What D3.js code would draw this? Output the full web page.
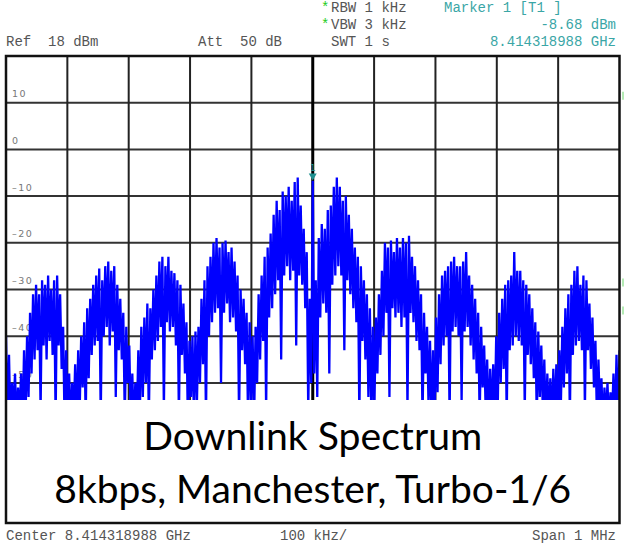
<!DOCTYPE html>
<html>
  <head>
    <meta charset="utf-8">
    <title>Downlink spectrum</title>
    <script src="https://d3js.org/d3.v7.min.js"></script>
    <style>
      body { margin: 0; background: #fff; }
      svg { display: block; }
      .mono { font-family: "Liberation Mono", "DejaVu Sans Mono", monospace; font-size: 14px; white-space: pre; }
    </style>
  </head>
  <body>
    <svg id="chart" width="625" height="549"></svg>
    <script>
      // analyser settings
      refLevel = 18;
      dbPerDiv = 10;
      spanKhz = 1000;
      markerKhz = 0;
      markerDbm = -8.68;
      yTicks = [10, 0, -10, -20, -30, -40, -50, -60, -70];
      // trace: upper and lower edge per sweep point (dBm), -500 kHz .. +500 kHz
      traceHi = [
        -42, -46, -52, -50, -53, -50, -45, -42, -37, -33,
        -31, -33, -30, -31, -29, -32, -30, -29, -33, -40,
        -45, -50, -52, -48, -45, -42, -39, -36, -34, -31,
        -29, -27.5, -30, -27, -26, -28, -27, -31, -34, -37,
        -40, -44, -50, -52, -45, -40, -38, -35, -36, -32,
        -29, -26, -25, -27, -25, -28, -28.5, -30, -31, -35,
        -39, -43, -42, -41, -40, -34, -30, -27, -25, -22,
        -21, -23, -22, -21.5, -24, -23, -26, -29, -32, -34,
        -37, -39, -42, -40, -33, -29, -25, -23, -20, -16,
        -13, -15, -11, -12, -10, -13, -9, -8, -14, -19,
        -24, -34, -8.7, -30, -21, -18, -19, -15, -14, -10,
        -8, -10, -13, -12, -16, -19, -23, -25, -27, -30,
        -33, -36, -40, -38, -33, -28, -22, -23, -21.5, -24,
        -21, -23, -21, -22, -20.5, -25, -27, -30, -33, -37,
        -40, -43, -45, -38, -33, -29, -28, -27, -26, -25,
        -27, -27, -26, -24, -29, -31, -34, -37, -40, -44,
        -47, -49, -48, -42, -37, -34, -31, -30, -29, -24,
        -28, -28, -30, -31, -33, -36, -39, -41, -44, -47,
        -50, -51, -49, -48, -45, -40, -36, -33, -31, -28,
        -27, -31, -29, -30, -35, -38, -43, -47, -51, -53,
        -52, -54, -50, -46, -45
      ];
      traceLo = [
        -60, -62, -58, -61, -60, -62, -60, -55, -50, -47,
        -45, -58, -44, -47, -43, -46, -60, -44, -49, -62,
        -60, -62, -60, -61, -58, -53, -60, -51, -46, -44,
        -43, -60, -42, -40, -44, -41, -55, -45, -47, -60,
        -52, -61, -62, -60, -59, -55, -52, -60, -47, -45,
        -43, -40, -58, -39, -41, -40, -44, -60, -46, -50,
        -62, -55, -60, -56, -52, -48, -60, -42, -39, -37,
        -36, -52, -37, -35, -39, -38, -41, -60, -45, -48,
        -61, -56, -60, -52, -47, -43, -58, -38, -36, -33,
        -30, -47, -29, -27, -30, -28, -44, -29, -31, -36,
        -58, -52, -50, -55, -38, -35, -37, -50, -31, -29,
        -27, -29, -45, -30, -33, -36, -39, -60, -43, -47,
        -55, -61, -57, -50, -46, -42, -37, -55, -36, -38,
        -37, -40, -38, -58, -37, -39, -43, -45, -60, -50,
        -57, -60, -62, -54, -48, -44, -42, -60, -41, -40,
        -42, -56, -41, -40, -44, -47, -50, -60, -53, -58,
        -62, -60, -61, -58, -52, -49, -60, -45, -44, -42,
        -43, -44, -58, -46, -48, -51, -60, -55, -58, -62,
        -60, -61, -60, -62, -57, -53, -50, -60, -46, -44,
        -43, -45, -58, -45, -49, -53, -60, -58, -62, -60,
        -61, -60, -62, -60, -58
      ];

      svg = d3.select("#chart");
      width = 625;
      height = 549;
      plot = { left: 6, right: 619.5, top: 56, bottom: 523 };

      x = d3.scaleLinear()
        .domain([-spanKhz / 2, spanKhz / 2])
        .range([plot.left, plot.right]);
      y = d3.scaleLinear()
        .domain([refLevel - 10 * dbPerDiv, refLevel])
        .range([plot.bottom, plot.top]);
      step = spanKhz / (traceHi.length - 1);

      svg.append("defs").append("clipPath")
          .attr("id", "plotClip")
        .append("rect")
          .attr("x", plot.left)
          .attr("y", plot.top)
          .attr("width", plot.right - plot.left)
          .attr("height", plot.bottom - plot.top);

      // grid
      grid = svg.append("g");
      grid.selectAll(".hline")
          .data(d3.range(1, 10))
        .enter().append("line")
          .attr("x1", plot.left)
          .attr("x2", plot.right)
          .attr("y1", function(d) { return y(refLevel - d * dbPerDiv); })
          .attr("y2", function(d) { return y(refLevel - d * dbPerDiv); })
          .attr("stroke", "#333")
          .attr("stroke-width", 2);
      grid.selectAll(".vline")
          .data(d3.range(1, 10))
        .enter().append("line")
          .attr("x1", function(d) { return x(-spanKhz / 2 + d * spanKhz / 10); })
          .attr("x2", function(d) { return x(-spanKhz / 2 + d * spanKhz / 10); })
          .attr("y1", plot.top)
          .attr("y2", plot.bottom)
          .attr("stroke", function(d) { return d === 5 ? "#000" : "#222"; })
          .attr("stroke-width", function(d) { return d === 5 ? 3 : 2; });

      // level labels sit on the grid lines
      labels = svg.append("g")
        .selectAll("g")
          .data(yTicks)
        .enter().append("g")
          .attr("transform", function(d) { return "translate(0," + y(d) + ")"; });
      labels.append("rect")
        .attr("x", 11)
        .attr("y", -6)
        .attr("width", function(d) { return d < 0 ? 25 : (d === 0 ? 9 : 17); })
        .attr("height", 12)
        .attr("fill", "#fff");
      labels.append("text")
        .attr("x", 12)
        .attr("y", 4)
        .attr("font-family", "DejaVu Sans, sans-serif")
        .attr("font-size", 9.5)
        .attr("letter-spacing", 1.5)
        .attr("fill", "#777")
        .text(function(d) { return d < 0 ? "\u2013" + Math.abs(d) : d; });

      // trace: upper edge then lower edge of every sweep point
      points = [];
      traceHi.forEach(function(d, i) {
        let f = -spanKhz / 2 + i * step;
        points.push([x(f), y(d)]);
        if (i < traceHi.length - 1) points.push([x(f + step / 2), y(traceLo[i])]);
      });
      svg.append("path")
        .attr("clip-path", "url(#plotClip)")
        .attr("d", d3.line()(points))
        .attr("fill", "none")
        .attr("stroke", "#0000ff")
        .attr("stroke-width", 2.3)
        .attr("stroke-linejoin", "miter");

      // marker 1
      mx = x(markerKhz);
      my = y(markerDbm);
      svg.append("path")
        .attr("d", "M" + (mx - 4) + "," + (my - 7) + "L" + (mx + 4) + "," + (my - 7) + "L" + mx + "," + my + "Z")
        .attr("fill", "#1f9090");
      svg.append("text")
        .attr("x", mx)
        .attr("y", my - 10)
        .attr("text-anchor", "middle")
        .attr("font-family", "DejaVu Sans, sans-serif")
        .attr("font-size", 9)
        .attr("fill", "#1f9090")
        .text("1");

      // caption pasted over the lower part of the screen
      svg.append("rect")
        .attr("x", plot.left)
        .attr("y", 400)
        .attr("width", plot.right - plot.left)
        .attr("height", plot.bottom - 400)
        .attr("fill", "#fff");
      caption = [
        ["Downlink Spectrum", 450, 339],
        ["8kbps, Manchester, Turbo-1/6", 503, 517]
      ];
      caption.forEach(function(c) {
        let t = svg.append("text")
          .attr("x", (plot.left + plot.right) / 2)
          .attr("y", c[1])
          .attr("text-anchor", "middle")
          .attr("font-family", "Lato, 'Open Sans', sans-serif")
          .attr("font-size", 40)
          .attr("fill", "#000")
          .text(c[0]);
        let w = t.node().getComputedTextLength();
        t.attr("font-size", 40 * c[2] / w);
      });

      // frame
      svg.append("rect")
        .attr("x", plot.left)
        .attr("y", plot.top)
        .attr("width", plot.right - plot.left)
        .attr("height", plot.bottom - plot.top)
        .attr("fill", "none")
        .attr("stroke", "#111")
        .attr("stroke-width", 2.5);
      svg.selectAll(".flag")
          .data([refLevel - 0.85 * dbPerDiv, -30.5, -36.5])
        .enter().append("line")
          .attr("x1", plot.right + 3.5)
          .attr("x2", plot.right + 3.5)
          .attr("y1", function(d) { return y(d) - 4; })
          .attr("y2", function(d) { return y(d) + 4; })
          .attr("stroke", "#9be39b")
          .attr("stroke-width", 1.5);

      // screen texts
      header = [
        ["Ref  18 dBm", 6, 46, "start", "#555"],
        ["Att  50 dB", 198, 46, "start", "#555"],
        ["RBW 1 kHz", 331, 12, "start", "#555"],
        ["VBW 3 kHz", 331, 29, "start", "#555"],
        ["SWT 1 s", 331, 46, "start", "#555"],
        ["Marker 1 [T1 ]", 444, 12, "start", "#3aa6a6"],
        [markerDbm.toFixed(2) + " dBm", 616, 29, "end", "#3aa6a6"],
        ["8.414318988 GHz", 616, 46, "end", "#3aa6a6"],
        ["Center 8.414318988 GHz", 6, 540, "start", "#555"],
        ["100 kHz/", 280, 540, "start", "#555"],
        ["Span 1 MHz", 616, 540, "end", "#555"]
      ];
      svg.selectAll(".info")
          .data(header)
        .enter().append("text")
          .attr("class", "mono")
          .attr("x", function(d) { return d[1]; })
          .attr("y", function(d) { return d[2]; })
          .attr("text-anchor", function(d) { return d[3]; })
          .attr("fill", function(d) { return d[4]; })
          .text(function(d) { return d[0]; });
      svg.selectAll(".star")
          .data([12, 29])
        .enter().append("text")
          .attr("class", "mono")
          .attr("x", 321)
          .attr("y", function(d) { return d; })
          .attr("font-size", 11)
          .attr("fill", "#22cc22")
          .text("*");
    </script>
  </body>
</html>
